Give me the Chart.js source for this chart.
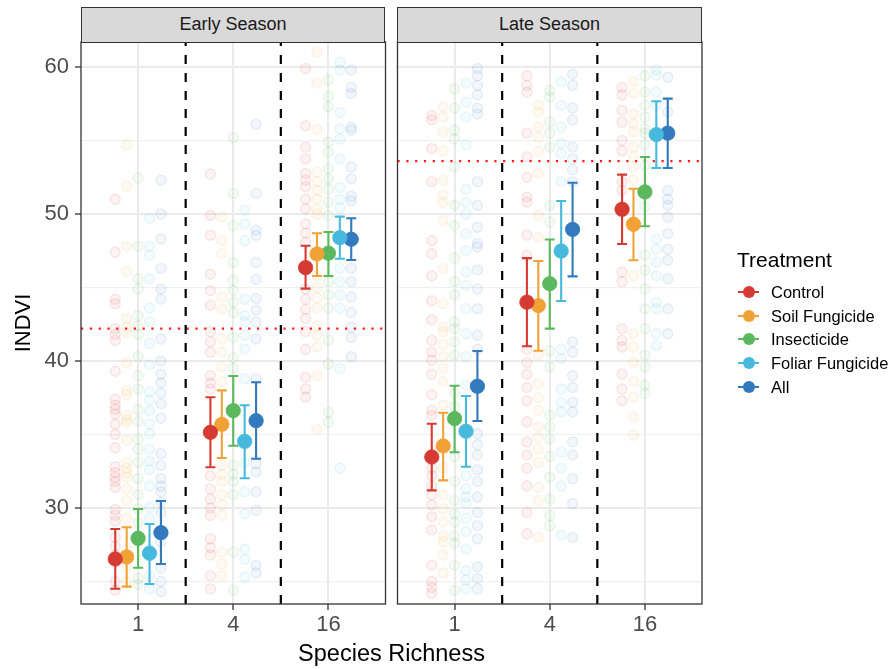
<!DOCTYPE html>
<html><head><meta charset="utf-8">
<script src="https://cdn.jsdelivr.net/npm/chart.js@4.4.1/dist/chart.umd.min.js"></script>
<style>
html,body{margin:0;padding:0;background:#fff;}
#wrap{position:relative;width:892px;height:669px;overflow:hidden;font-family:'Liberation Sans',Arial,Helvetica,sans-serif;}
#c{position:absolute;left:0;top:0;}
.strip{position:absolute;top:7px;height:36px;box-sizing:border-box;border:1.3px solid #333;background:#D9D9D9;color:#1A1A1A;font-size:18px;line-height:33px;text-align:center;}
.lt{position:absolute;left:737px;top:248px;font-size:21px;line-height:24px;color:#000;}
.li{position:absolute;left:738px;height:24px;line-height:24px;font-size:16.5px;color:#000;white-space:nowrap;}
.li .ln{position:absolute;left:0;top:11px;width:21px;height:2px;}
.li .dt{position:absolute;left:4.5px;top:6px;width:12px;height:12px;border-radius:50%;}
.li span{position:absolute;left:33px;top:0;}
</style></head>
<body><div id="wrap">
<canvas id="c" width="892" height="669"></canvas>
<div class="strip" style="left:81px;width:304px;">Early Season</div>
<div class="strip" style="left:397px;width:305px;">Late Season</div>
<div id="legend"></div>
</div>
<script>
// ---------- data ----------
const categories = ['1', '4', '16'];
const treatments = ['Control', 'Soil Fungicide', 'Insecticide', 'Foliar Fungicide', 'All'];
const panels = ['Early Season', 'Late Season'];
const yTicks = [30, 40, 50, 60];
const controlLine = [42.2, 53.6]; // red dotted reference per panel

// means / lower / upper, rows = treatment, cols = category
const earlyMean = [[26.53, 35.15, 46.35], [26.67, 35.69, 47.28], [27.94, 36.62, 47.33], [26.92, 34.53, 48.39], [28.32, 35.94, 48.28]];
const earlyLow  = [[24.51, 32.77, 44.92], [24.65, 33.40, 45.78], [25.94, 34.24, 45.78], [24.83, 32.02, 46.96], [26.19, 33.35, 46.87]];
const earlyHigh = [[28.57, 37.53, 47.84], [28.69, 38.00, 48.69], [29.93, 38.98, 48.78], [28.91, 36.99, 49.82], [30.48, 38.55, 49.71]];
const lateMean  = [[33.47, 44.00, 50.32], [34.22, 43.77, 49.30], [36.08, 45.26, 51.50], [35.22, 47.48, 55.40], [38.28, 48.95, 55.50]];
const lateLow   = [[31.20, 41.00, 47.96], [31.88, 40.70, 46.85], [33.79, 42.20, 49.17], [32.81, 44.08, 53.13], [35.92, 45.76, 53.13]];
const lateHigh  = [[35.73, 47.00, 52.68], [36.48, 46.80, 51.72], [38.32, 48.26, 53.88], [37.62, 50.88, 57.67], [40.68, 52.13, 57.85]];

// raw plot observations, [treatment] per category
const earlyRaw1 = [
  [51.0, 47.4, 44.2, 43.9, 42.2, 41.8, 41.4, 39.3, 37.4, 37.0, 36.7, 36.4, 35.7, 35.0, 34.1, 32.8, 32.4, 32.1, 31.8, 31.4, 29.9, 29.5, 29.1, 28.0, 27.4, 26.8, 25.0, 24.4],
  [54.7, 51.9, 47.8, 46.1, 42.9, 42.3, 41.9, 39.9, 38.0, 37.7, 36.3, 36.0, 35.8, 34.6, 33.1, 32.7, 32.4, 32.1, 31.3, 30.5, 29.3, 27.2, 26.0, 25.0],
  [52.45, 47.8, 45.6, 44.9, 43.1, 42.4, 41.8, 40.3, 39.0, 38.1, 36.7, 35.9, 34.7, 34.0, 33.1, 32.0, 30.9, 29.95, 29.0, 27.7, 25.2, 24.8],
  [49.7, 47.8, 47.2, 45.6, 43.6, 42.65, 41.2, 39.75, 37.9, 37.35, 36.6, 35.7, 35.05, 34.0, 33.2, 32.6, 31.5, 30.05, 29.3, 27.2, 26.8, 25.4, 24.5],
  [52.3, 50.0, 48.3, 46.3, 44.9, 44.2, 41.5, 40.0, 39.1, 38.5, 37.8, 37.1, 36.1, 33.7, 32.9, 32.0, 31.5, 31.1, 30.4, 29.7, 27.7, 25.9, 25.0, 24.3]
];
const earlyRaw4 = [
  [52.7, 49.9, 48.55, 45.9, 44.8, 43.8, 42.0, 41.3, 40.6, 39.0, 38.5, 38.1, 32.2, 31.3, 30.6, 30.0, 29.5, 27.9, 27.3, 26.8, 25.4, 24.5],
  [49.8, 48.2, 47.3, 44.35, 43.55, 41.5, 40.6, 39.6, 38.6, 32.9, 32.3, 31.8, 30.9, 30.2, 29.5, 27.0, 26.2, 25.4],
  [55.2, 51.4, 49.2, 46.7, 45.5, 44.8, 44.0, 43.3, 41.6, 40.2, 39.5, 32.9, 32.3, 31.8, 30.9, 27.0, 24.4],
  [50.25, 49.3, 48.2, 44.2, 43.1, 42.65, 41.75, 40.8, 38.8, 33.1, 31.1, 29.6, 27.2, 26.5, 25.3],
  [56.1, 51.4, 48.9, 48.55, 46.7, 45.55, 44.25, 43.45, 42.65, 41.5, 38.8, 33.0, 32.45, 31.1, 29.85, 26.1, 25.6]
];
const earlyRaw16 = [
  [59.9, 56.0, 54.55, 53.75, 52.75, 52.3, 51.85, 51.0, 50.35, 49.3, 48.7, 48.1, 44.9, 44.2, 43.5, 42.9, 42.0, 40.8, 38.9, 38.1, 37.55],
  [61.0, 58.9, 55.75, 52.85, 52.2, 51.6, 51.0, 50.3, 50.0, 45.8, 45.0, 44.3, 43.6, 42.4, 41.75, 40.95, 39.0, 35.35],
  [59.1, 58.0, 57.3, 54.9, 54.2, 53.1, 52.4, 51.7, 50.8, 49.9, 45.4, 44.5, 43.6, 41.4, 39.8, 36.5, 35.85],
  [60.3, 59.8, 56.9, 55.8, 55.1, 53.75, 51.8, 51.0, 50.4, 46.3, 45.4, 44.5, 43.6, 39.5, 32.7],
  [59.8, 58.6, 58.2, 55.9, 55.7, 53.2, 52.4, 51.2, 50.9, 46.3, 45.4, 44.35, 43.3, 42.3, 41.6, 40.3]
];
const lateRaw1 = [
  [56.7, 56.4, 54.45, 52.2, 48.2, 47.3, 45.8, 44.1, 42.8, 41.4, 40.6, 40.05, 39.1, 37.7, 36.65, 36.3, 32.7, 32.2, 31.5, 30.9, 30.2, 29.4, 28.5, 26.1, 25.0, 24.6, 24.2],
  [57.3, 56.6, 55.6, 54.3, 52.3, 51.3, 50.8, 49.55, 46.3, 43.9, 42.3, 42.0, 41.1, 40.3, 39.5, 38.6, 37.0, 32.7, 30.9, 29.95, 29.05, 28.1, 27.7, 26.8, 25.6],
  [58.5, 57.2, 55.7, 55.1, 53.2, 50.6, 49.2, 47.0, 45.4, 44.5, 42.65, 42.2, 41.3, 40.4, 37.8, 36.9, 33.5, 31.8, 30.5, 29.6, 29.05, 28.1, 27.6, 26.1, 24.4],
  [58.9, 57.6, 56.6, 54.7, 51.7, 50.8, 50.0, 48.65, 47.5, 46.05, 45.15, 43.56, 41.85, 40.3, 38.35, 32.2, 31.3, 30.75, 30.3, 29.3, 28.4, 27.2, 25.75, 25.1, 24.5],
  [59.9, 59.4, 58.75, 58.1, 57.2, 56.8, 52.2, 50.6, 49.1, 48.0, 47.75, 46.2, 44.9, 43.55, 41.75, 40.8, 35.05, 34.3, 33.6, 32.6, 31.8, 30.75, 29.7, 28.8, 27.9, 26.0, 25.2, 24.5]
];
const lateRaw4 = [
  [59.4, 58.75, 58.3, 55.5, 53.9, 52.5, 51.15, 50.8, 48.55, 47.2, 40.8, 39.9, 39.1, 38.2, 37.3, 35.85, 34.5, 33.6, 32.7, 31.5, 29.7, 28.25],
  [57.4, 56.95, 55.9, 55.2, 54.25, 52.75, 49.9, 48.4, 40.4, 38.45, 37.5, 36.65, 35.5, 34.8, 34.0, 33.1, 31.4, 30.5, 28.0],
  [58.4, 57.95, 56.25, 55.5, 54.55, 50.6, 49.45, 40.7, 39.6, 36.3, 35.5, 34.7, 33.5, 32.1, 30.6, 29.5, 28.8],
  [59.0, 57.4, 55.9, 54.8, 54.1, 52.2, 40.8, 40.15, 38.1, 37.2, 36.55, 33.8, 32.7, 31.5, 28.15],
  [59.5, 58.75, 57.2, 56.4, 54.55, 53.75, 53.0, 52.2, 41.3, 40.6, 39.0, 38.2, 37.2, 36.55, 34.5, 33.6, 32.0, 30.3, 28.0]
];
const lateRaw16 = [
  [58.6, 58.1, 57.05, 56.25, 55.0, 54.3, 52.2, 51.6, 46.05, 45.4, 42.2, 41.4, 40.95, 39.1, 38.1, 37.3],
  [59.0, 58.2, 56.8, 56.15, 55.6, 54.55, 53.9, 53.2, 52.3, 45.8, 41.85, 40.95, 39.9, 38.6, 37.55, 36.2, 34.95],
  [59.4, 58.3, 57.4, 56.6, 55.8, 55.5, 54.7, 53.3, 50.5, 47.2, 46.2, 44.9, 43.55, 42.2, 40.4, 39.6, 38.35, 37.8],
  [59.8, 59.45, 58.3, 57.4, 48.3, 47.6, 46.7, 45.8, 44.0, 43.55, 41.85, 41.05],
  [59.3, 56.95, 51.6, 51.0, 50.6, 49.8, 48.65, 47.6, 46.85, 45.6, 43.55, 41.85]
];

// ---------- styling / layout constants ----------
const colors = ['#D63B33', '#F0A236', '#5CB85C', '#46B9DC', '#3279BD'];
const rgba = (hex, a) => {
  const n = parseInt(hex.slice(1), 16);
  return `rgba(${(n >> 16) & 255},${(n >> 8) & 255},${n & 255},${a})`;
};
const dodge = [-0.24, -0.12, 0, 0.12, 0.24];
const PANEL_W = 3.2, GAP = 0.126;
const panelStart = [0.4, 0.4 + PANEL_W + GAP];
const panelOffset = panelStart.map(s => s - 0.4);
const X_MIN = 0.4, X_MAX = panelStart[1] + PANEL_W;
const Y_MIN = 23.47, Y_MAX = 61.70;
const CAP = 0.0525;

const panelData = [
  {mean: earlyMean, low: earlyLow, high: earlyHigh, raw: [earlyRaw1, earlyRaw4, earlyRaw16]},
  {mean: lateMean, low: lateLow, high: lateHigh, raw: [lateRaw1, lateRaw4, lateRaw16]}
];

const datasets = [];
panelData.forEach((pd, p) => {
  treatments.forEach((t, ti) => {
    const xs = categories.map((c, ci) => ci + 1 + panelOffset[p] + dodge[ti]);
    const raw = [];
    categories.forEach((c, ci) => pd.raw[ci][ti].forEach(v => raw.push({x: xs[ci], y: v})));
    datasets.push({
      label: panels[p] + ' ' + t + ' raw', data: raw, order: 5,
      pointRadius: 5, pointBorderWidth: 1.4,
      backgroundColor: rgba(colors[ti], 0.06), borderColor: rgba(colors[ti], 0.11)
    });
    const eb = [];
    xs.forEach((x, ci) => {
      const lo = pd.low[ti][ci], hi = pd.high[ti][ci];
      eb.push({x, y: lo}, {x, y: hi}, {x, y: null});
      eb.push({x: x - CAP, y: hi}, {x: x + CAP, y: hi}, {x, y: null});
      eb.push({x: x - CAP, y: lo}, {x: x + CAP, y: lo}, {x, y: null});
    });
    datasets.push({
      label: panels[p] + ' ' + t + ' CI', data: eb, order: 1, showLine: true, spanGaps: false,
      borderColor: colors[ti], borderWidth: 2.1, pointRadius: 0, borderCapStyle: 'butt'
    });
    datasets.push({
      label: t, data: xs.map((x, ci) => ({x, y: pd.mean[ti][ci]})), order: 0,
      pointRadius: 7.2, pointBorderWidth: 0.8, backgroundColor: colors[ti], borderColor: colors[ti]
    });
  });
  [1.5, 2.5].forEach(v => datasets.push({
    label: 'sep', data: [{x: v + panelOffset[p], y: Y_MIN}, {x: v + panelOffset[p], y: Y_MAX}],
    order: 3, showLine: true, pointRadius: 0, borderColor: '#000', borderWidth: 2.2, borderDash: [9, 9]
  }));
  datasets.push({
    label: 'ref', data: [{x: panelStart[p], y: controlLine[p]}, {x: panelStart[p] + PANEL_W, y: controlLine[p]}],
    order: 3, showLine: true, pointRadius: 0, borderColor: '#FF1A1A', borderWidth: 2.2, borderDash: [2.2, 6.6]
  });
});

const xTickVals = [];
panelOffset.forEach(o => categories.forEach((c, ci) => xTickVals.push(ci + 1 + o)));

const panelPlugin = {
  id: 'panels',
  beforeDatasetsDraw(chart) {
    const {ctx, chartArea: a, scales: {x}} = chart;
    ctx.save();
    ctx.fillStyle = '#fff';
    const g0 = x.getPixelForValue(panelStart[0] + PANEL_W), g1 = x.getPixelForValue(panelStart[1]);
    ctx.fillRect(g0, a.top - 1, g1 - g0, a.bottom - a.top + 2);
    ctx.restore();
  },
  afterDraw(chart) {
    const {ctx, chartArea: a, scales: {x}} = chart;
    ctx.save();
    ctx.strokeStyle = '#333';
    ctx.lineWidth = 1.3;
    panelStart.forEach(s => {
      const l = x.getPixelForValue(s), r = x.getPixelForValue(s + PANEL_W);
      ctx.strokeRect(l, a.top, r - l, a.bottom - a.top);
    });
    ctx.restore();
  }
};

Chart.defaults.font.family = "'Liberation Sans', Arial, Helvetica, sans-serif";
new Chart(document.getElementById('c'), {
  type: 'scatter',
  data: {datasets},
  plugins: [panelPlugin],
  options: {
    responsive: false, animation: false, events: [],
    layout: {padding: {top: 42, right: 190, bottom: 0, left: 0}},
    plugins: {legend: {display: false}, tooltip: {enabled: false}},
    scales: {
      x: {
        type: 'linear', min: X_MIN, max: X_MAX,
        afterBuildTicks: s => { s.ticks = xTickVals.map(v => ({value: v})); },
        afterFit: s => { s.height = 65; },
        ticks: {
          autoSkip: false, maxRotation: 0, padding: 2, color: '#4D4D4D', font: {size: 22},
          callback: v => categories[Math.round(v - (v > panelStart[1] ? panelOffset[1] : 0)) - 1]
        },
        grid: {color: '#EBEBEB', lineWidth: 2, tickColor: '#333', tickLength: 6, tickWidth: 1.3},
        border: {display: false},
        title: {display: true, text: 'Species Richness', color: '#000', font: {size: 23.5}, padding: {top: 0, bottom: 0}}
      },
      y: {
        min: Y_MIN, max: Y_MAX,
        afterBuildTicks: s => { s.ticks = [25, 30, 35, 40, 45, 50, 55, 60].map(v => ({value: v})); },
        afterFit: s => { s.width = 81; },
        ticks: {
          padding: 6, color: '#4D4D4D', font: {size: 22},
          callback: v => yTicks.includes(v) ? String(v) : ''
        },
        grid: {
          color: c => (c.tick && c.tick.value % 10 === 0) ? '#EBEBEB' : '#F1F1F1',
          lineWidth: c => (c.tick && c.tick.value % 10 === 0) ? 2 : 1.3,
          tickColor: c => (c.tick && c.tick.value % 10 === 0) ? '#333' : 'rgba(0,0,0,0)',
          tickLength: 6, tickWidth: 1.3
        },
        border: {display: false},
        title: {display: true, text: 'INDVI', color: '#000', font: {size: 22}, padding: {top: 11, bottom: 0}}
      }
    }
  }
});

const lg = document.getElementById('legend');
const title = document.createElement('div');
title.className = 'lt'; title.textContent = 'Treatment';
lg.appendChild(title);
treatments.forEach((t, i) => {
  const d = document.createElement('div');
  d.className = 'li';
  d.style.top = (280 + i * 23.7) + 'px';
  d.innerHTML = `<div class="ln" style="background:${colors[i]}"></div><div class="dt" style="background:${colors[i]}"></div><span>${t}</span>`;
  lg.appendChild(d);
});
</script>
</body></html>
